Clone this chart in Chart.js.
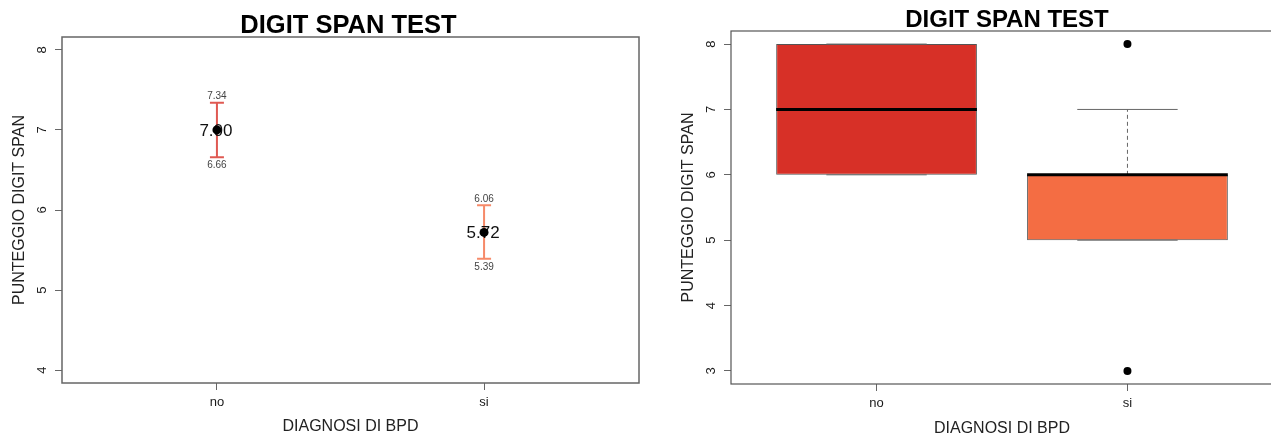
<!DOCTYPE html>
<html>
<head>
<meta charset="utf-8">
<script src="https://cdn.jsdelivr.net/npm/chart.js@4.4.1/dist/chart.umd.min.js"></script>
<style>
  html, body { margin: 0; padding: 0; background: #fff; overflow: hidden; width: 1271px; height: 435px; }
  canvas { position: absolute; top: 0; }
  #meanChart { left: 0; }
  #boxChart { left: 640px; }
</style>
</head>
<body>
<canvas id="meanChart" width="640" height="435"></canvas>
<canvas id="boxChart" width="640" height="435"></canvas>
<script>
// Groups (diagnosis) and their positions on the x axis
const groups = ['no', 'si'];
const groupPos = [1, 2];

// Mean score per group with its confidence limits
const means = [7.00, 5.72];
const ciLower = [6.66, 5.39];
const ciUpper = [7.34, 6.06];

// Box plot summaries per group
const boxQ1 = [6, 5];
const boxMedian = [7, 6];
const boxQ3 = [8, 6];
const whiskerLow = [6, 5];
const whiskerHigh = [8, 7];
const outlierGroup = [2, 2];
const outlierValue = [8, 3];

// Axis ticks
const meanTicks = [4, 5, 6, 7, 8];
const boxTicks = [3, 4, 5, 6, 7, 8];

const chartTitle = 'DIGIT SPAN TEST';
const xTitle = 'DIAGNOSI DI BPD';
const yTitle = 'PUNTEGGIO DIGIT SPAN';

const boxColors = ['#D73027', '#F46D43'];
const barColors = ['rgba(215,48,39,0.8)', 'rgba(244,109,67,0.8)'];
const FONT = '"Liberation Sans", Arial, Helvetica, sans-serif';

// Frame around the plotting area plus the bold main title above it
const framePlugin = {
  id: 'frame',
  afterDraw(chart, args, opts) {
    const { ctx, chartArea: a } = chart;
    ctx.save();
    ctx.strokeStyle = opts.color;
    ctx.lineWidth = opts.width;
    ctx.strokeRect(a.left, a.top, a.right - a.left, a.bottom - a.top);
    ctx.fillStyle = '#000';
    ctx.font = 'bold ' + opts.titleSize + 'px ' + FONT;
    ctx.textAlign = 'center';
    ctx.textBaseline = 'alphabetic';
    ctx.fillText(chartTitle, (a.left + a.right) / 2 + opts.titleShift, a.top - 4);
    ctx.restore();
  }
};

// Confidence interval bars with their value labels, drawn under the mean points
const errorBarPlugin = {
  id: 'errorBars',
  beforeDatasetsDraw(chart) {
    const { ctx, scales: { x, y } } = chart;
    ctx.save();
    groupPos.forEach((g, i) => {
      const px = x.getPixelForValue(g);
      const yLo = y.getPixelForValue(ciLower[i]);
      const yHi = y.getPixelForValue(ciUpper[i]);
      const yM = y.getPixelForValue(means[i]);
      ctx.strokeStyle = barColors[i];
      ctx.lineWidth = 2;
      ctx.beginPath();
      ctx.moveTo(px, yHi); ctx.lineTo(px, yLo);
      ctx.moveTo(px - 7, yHi); ctx.lineTo(px + 7, yHi);
      ctx.moveTo(px - 7, yLo); ctx.lineTo(px + 7, yLo);
      ctx.stroke();

      ctx.textAlign = 'center';
      ctx.textBaseline = 'middle';
      ctx.fillStyle = '#444';
      ctx.font = '10px ' + FONT;
      ctx.fillText(ciUpper[i].toFixed(2), px, yHi - 6);
      ctx.fillText(ciLower[i].toFixed(2), px, yLo + 8);

      ctx.fillStyle = '#111';
      ctx.font = '17px ' + FONT;
      ctx.fillText(means[i].toFixed(2), px - 1, yM + 1);
    });
    ctx.restore();
  }
};

// Median lines, dashed whiskers and staples on top of the boxes
const boxPartsPlugin = {
  id: 'boxParts',
  afterDatasetsDraw(chart) {
    const { ctx, scales: { y } } = chart;
    const bars = chart.getDatasetMeta(0).data;
    ctx.save();
    bars.forEach((bar, i) => {
      const half = bar.width / 2;
      const cx = bar.x;
      ctx.strokeStyle = '#666';
      ctx.lineWidth = 1;
      ctx.setLineDash([4, 3]);
      ctx.beginPath();
      ctx.moveTo(cx, y.getPixelForValue(boxQ3[i]));
      ctx.lineTo(cx, y.getPixelForValue(whiskerHigh[i]));
      ctx.moveTo(cx, y.getPixelForValue(boxQ1[i]));
      ctx.lineTo(cx, y.getPixelForValue(whiskerLow[i]));
      ctx.stroke();
      ctx.setLineDash([]);
      ctx.beginPath();
      [whiskerLow[i], whiskerHigh[i]].forEach(v => {
        const py = y.getPixelForValue(v);
        ctx.moveTo(cx - half / 2, py);
        ctx.lineTo(cx + half / 2, py);
      });
      ctx.stroke();

      const ym = y.getPixelForValue(boxMedian[i]);
      ctx.strokeStyle = '#000';
      ctx.lineWidth = 3;
      ctx.beginPath();
      ctx.moveTo(cx - half, ym);
      ctx.lineTo(cx + half, ym);
      ctx.stroke();
    });
    ctx.restore();
  }
};

function xAxis(height, titlePad) {
  return {
    type: 'linear',
    min: 0.42,
    max: 2.58,
    offset: false,
    afterBuildTicks: s => { s.ticks = groupPos.map(v => ({ value: v })); },
    afterFit: s => { s.height = height; },
    grid: { display: true, offset: false, drawOnChartArea: false, drawTicks: true, tickLength: 7, color: '#666', lineWidth: 1 },
    border: { display: false },
    ticks: {
      callback: v => groups[groupPos.indexOf(v)],
      font: { family: FONT, size: 13 },
      color: '#1a1a1a',
      padding: 5,
      maxRotation: 0,
      autoSkip: false
    },
    title: { display: true, text: xTitle, font: { family: FONT, size: 16 }, color: '#222', padding: { top: 0, bottom: titlePad } }
  };
}

function yAxis(min, max, tickValues, width, titlePad) {
  return {
    type: 'linear',
    min: min,
    max: max,
    beginAtZero: false,
    afterBuildTicks: s => { s.ticks = tickValues.map(v => ({ value: v })); },
    afterFit: s => { s.width = width; },
    grid: { display: true, offset: false, drawOnChartArea: false, drawTicks: true, tickLength: 7, color: '#666', lineWidth: 1 },
    border: { display: false },
    ticks: {
      minRotation: 90,
      maxRotation: 90,
      crossAlign: 'center',
      padding: 9,
      font: { family: FONT, size: 13 },
      color: '#1a1a1a',
      autoSkip: false
    },
    title: { display: true, text: yTitle, font: { family: FONT, size: 16 }, color: '#222', padding: { top: titlePad, bottom: 0 } }
  };
}

// Left: group means with confidence intervals
new Chart(document.getElementById('meanChart'), {
  type: 'scatter',
  data: {
    datasets: [{
      data: groupPos.map((g, i) => ({ x: g, y: means[i] })),
      pointRadius: 4.5,
      pointBackgroundColor: '#000',
      pointBorderColor: '#000',
      pointBorderWidth: 0
    }]
  },
  options: {
    responsive: false,
    animation: false,
    events: [],
    layout: { autoPadding: false, padding: { top: 37, right: 1, left: 0, bottom: 0 } },
    plugins: {
      legend: { display: false },
      tooltip: { enabled: false },
      frame: { color: '#666', width: 1.5, titleSize: 25.5, titleShift: -2 }
    },
    scales: {
      x: xAxis(52, -1.5),
      y: yAxis(3.84, 8.16, meanTicks, 62, 10)
    }
  },
  plugins: [framePlugin, errorBarPlugin]
});

// Right: box plots by group with outliers
new Chart(document.getElementById('boxChart'), {
  type: 'bar',
  data: {
    datasets: [
      {
        type: 'bar',
        data: groupPos.map((g, i) => ({ x: g, y: [boxQ1[i], boxQ3[i]] })),
        backgroundColor: boxColors,
        borderColor: '#555',
        borderWidth: 1,
        borderSkipped: false,
        categoryPercentage: 1,
        barPercentage: 0.8,
        order: 2
      },
      {
        type: 'scatter',
        data: outlierGroup.map((g, i) => ({ x: g, y: outlierValue[i] })),
        pointRadius: 4,
        pointBackgroundColor: '#000',
        pointBorderColor: '#000',
        pointBorderWidth: 0,
        order: 1
      }
    ]
  },
  options: {
    responsive: false,
    animation: false,
    events: [],
    layout: { autoPadding: false, padding: { top: 31, right: 7, left: 0, bottom: 0 } },
    plugins: {
      legend: { display: false },
      tooltip: { enabled: false },
      frame: { color: '#555', width: 1.2, titleSize: 24, titleShift: 5 }
    },
    scales: {
      x: xAxis(51, -3.5),
      y: yAxis(2.8, 8.2, boxTicks, 91, 39)
    }
  },
  plugins: [framePlugin, boxPartsPlugin]
});
</script>
</body>
</html>
